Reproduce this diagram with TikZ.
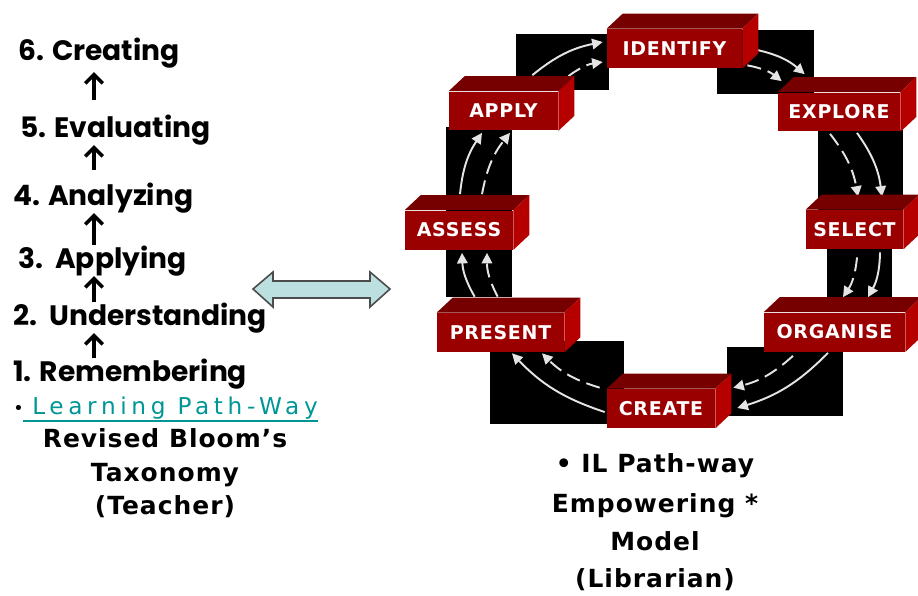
\documentclass[tikz,border=0pt]{standalone}
\usepackage{fontspec}
\setmainfont{DejaVu Sans}[LetterSpace=4]
\newfontfamily\handfont{Poppins}
\newfontfamily\spaced[LetterSpace=20]{DejaVu Sans}
\usetikzlibrary{arrows.meta,backgrounds}
\definecolor{boxfront}{RGB}{155,0,0}
\definecolor{boxtop}{RGB}{118,0,0}
\definecolor{boxside}{RGB}{182,0,0}
\definecolor{flowline}{RGB}{228,228,228}
\definecolor{pathteal}{RGB}{0,150,150}
\definecolor{dblfill}{RGB}{188,224,224}

\begin{document}
\begin{tikzpicture}[x=0.02cm,y=-0.02cm,
    bloom/.style={anchor=base west,inner sep=0pt,font=\handfont\bfseries\fontsize{16}{19}\selectfont},
    footline/.style={anchor=base,inner sep=0pt,font=\bfseries\fontsize{14.2}{17}\selectfont},
    stage/.style={fill=boxfront,text=white,inner sep=0pt,minimum height=0.78cm,font=\bfseries\fontsize{10.8}{13}\selectfont},
    rise/.style={-{Straight Barb[length=5pt,width=10pt,line width=2pt]},line width=2.2pt},
    flow/.style={flowline,line width=1.1pt,-{Triangle[length=6pt,width=6pt]},bend left=14},
    flowdash/.style={flow,dash pattern=on 8pt off 4pt}]
    \useasboundingbox (0,0) rectangle (918,595);

    \node[bloom] (creating)      at (18,60)  {6. Creating};
    \node[bloom] (evaluating)    at (20,137) {5. Evaluating};
    \node[bloom] (analyzing)     at (13,205) {4. Analyzing};
    \node[bloom] (applying)      at (18,268) {3.\ \ Applying};
    \node[bloom] (understanding) at (13,325) {2.\ \ Understanding};
    \node[bloom] (remembering)   at (13,381) {1. Remembering};
    \coordinate (ax) at (94,0);
    \draw[rise] (ax |- remembering.north) -- (ax |- understanding.south);
    \draw[rise] (ax |- understanding.north) -- (ax |- applying.south);
    \draw[rise] (ax |- applying.north) -- (ax |- analyzing.south);
    \draw[rise,shorten <=0.24cm] (ax |- analyzing.north) -- (ax |- evaluating.south);
    \draw[rise,shorten <=0.28cm,shorten >=0.08cm] (ax |- evaluating.north) -- (ax |- creating.south);

    \node[anchor=base west,inner sep=0pt] (dot) at (13,414) {•};
    \node[anchor=base west,inner sep=0pt,text=pathteal,font=\spaced\fontsize{13.2}{16}\selectfont] (learn) at (32,414) {Learning Path-Way};
    \draw[pathteal,line width=0.8pt] ([shift={(-9,7)}]learn.base west) -- ([shift={(0,7)}]learn.base east);
    \node[footline] (revised)  at (165,447) {Revised Bloom's};
    \node[footline] (taxonomy) at (165,481) {Taxonomy};
    \node[footline] (teacher)  at (165,514) {(Teacher)};

    \draw[fill=dblfill,draw=black!70,line width=0.9pt] (253,289) -- (273,272) -- (273,281) -- (370,281) -- (370,272)
        -- (390,289) -- (370,307) -- (370,298) -- (273,298) -- (273,307) -- cycle;

    \node[stage,minimum width=2.70cm] (identify) at (674.5,48.5) {IDENTIFY};
    \node[stage,minimum width=2.18cm] (apply)    at (503.5,111)  {APPLY};
    \node[stage,minimum width=2.44cm] (explore)  at (839,112)    {EXPLORE};
    \node[stage,minimum width=1.94cm] (select)   at (854.5,229.5) {SELECT};
    \node[stage,minimum width=2.16cm] (assess)   at (459,230)    {ASSESS};
    \node[stage,minimum width=2.54cm] (present)  at (500.5,332.5) {PRESENT};
    \node[stage,minimum width=2.82cm] (organise) at (834.5,332)  {ORGANISE};
    \node[stage,minimum width=2.16cm] (create)   at (661,408.5)  {CREATE};
    \foreach \s in {identify,apply,explore,select,assess,present,organise,create}{
        \fill[boxtop] (\s.north west) -- ++(16,-15) -- ([shift={(16,-15)}]\s.north east) -- (\s.north east) -- cycle;
        \fill[boxside] (\s.north east) -- ++(16,-15) -- ([shift={(16,-15)}]\s.south east) -- (\s.south east) -- cycle;
    }

    \begin{scope}[on background layer]
        \fill (516,34) rectangle (609,90);
        \fill (717,30) rectangle (814,94);
        \fill (446,127) rectangle (512,297);
        \fill (818,130) rectangle (903,212);
        \fill (827,249) rectangle (892,300);
        \fill (490,341) rectangle (624,424);
        \fill (727,347) rectangle (843,416);
        \draw[flow]     ([shift={(-26,-16)}]apply.north east) to ([shift={(-4,-6.5)}]identify.west);
        \draw[flowdash] ([shift={(10,-15)}]apply.north east)  to ([shift={(-4,13.5)}]identify.west);
        \draw[flow]     ([shift={(15,1.5)}]identify.east)      to ([shift={(27,-18)}]explore.north west);
        \draw[flowdash] ([shift={(5,-3)}]identify.south east)  to ([shift={(4,-11)}]explore.north west);
        \draw[flow]     ([shift={(18,1)}]explore.south)        to ([shift={(27.5,-13)}]select.north);
        \draw[flowdash] ([shift={(-9,2)}]explore.south)        to ([shift={(3.5,-13)}]select.north);
        \draw[flow]     ([shift={(25.5,3)}]select.south)       to ([shift={(33.5,-15)}]organise.north);
        \draw[flowdash] ([shift={(2.5,8)}]select.south)        to ([shift={(8.5,-15)}]organise.north);
        \draw[flow]     ([shift={(-6.5,1)}]organise.south)     to ([shift={(22,-0.5)}]create.east);
        \draw[flowdash] ([shift={(-41.5,4)}]organise.south)    to ([shift={(18,-1)}]create.north east);
        \draw[flow]     ([shift={(-2,3.5)}]create.west)        to ([shift={(11.5,1)}]present.south);
        \draw[flowdash] ([shift={(-7,-1)}]create.north west)   to ([shift={(41.5,1)}]present.south);
        \draw[flow]     ([shift={(38,-16)}]present.north west) to ([shift={(3,3)}]assess.south);
        \draw[flowdash] ([shift={(61,-16)}]present.north west) to ([shift={(28,3)}]assess.south);
        \draw[flow]     ([shift={(1,-16)}]assess.north)        to ([shift={(-21.5,2)}]apply.south);
        \draw[flowdash] ([shift={(23,-16)}]assess.north)       to ([shift={(6.5,2)}]apply.south);
    \end{scope}

    \node[footline] (il)    at (655,472) {• IL Path-way};
    \node[footline] (emp)   at (655,512) {Empowering *};
    \node[footline] (model) at (655,550) {Model};
    \node[footline] (lib)   at (655,587) {(Librarian)};
\end{tikzpicture}
\end{document}
